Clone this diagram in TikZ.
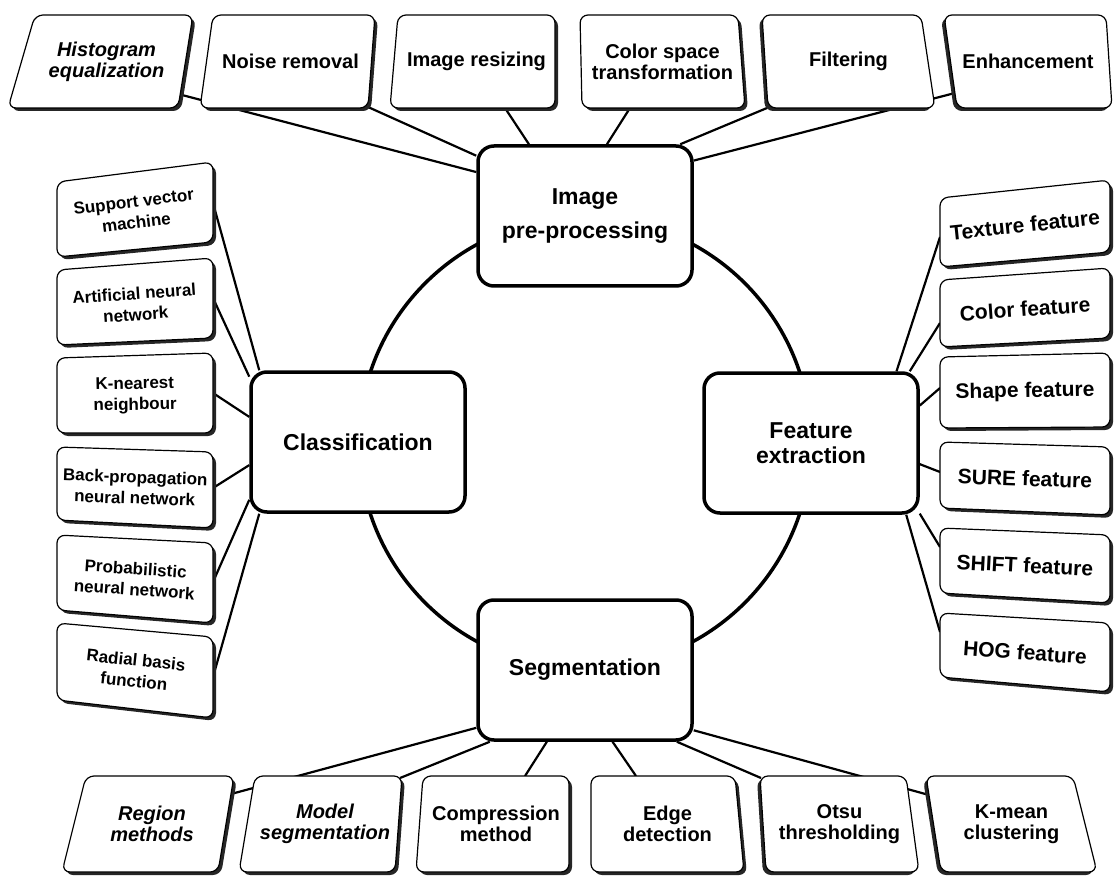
\documentclass[tikz,border=0pt]{standalone}
\usepackage{fontspec}
\setmainfont{Liberation Sans}
\usetikzlibrary{calc}
\newcommand{\boxfont}{\fontsize{20}{21}\selectfont\bfseries}
% tilted box: node options, four corners (TL, TR, BR, BL), shadow shift, text
\newcommand{\tiltbox}[7]{%
    \fill[shift={#6}, rounded corners=8pt, black!85] #2 -- #3 -- #4 -- #5 -- cycle;
    \draw[tiltedge] #2 -- #3 -- #4 -- #5 -- cycle;
    \node[#1] at ($#2!0.5!#4$) {#7};
}

\begin{document}
\begin{tikzpicture}[
        x=1pt, y=-1pt,
        hubbox/.style={draw, line width=3.5pt, fill=white, rounded corners=16pt, minimum width=214pt, minimum height=140pt, align=center, font=\fontsize{23}{25}\selectfont\bfseries},
        boxtext/.style={align=center, font=\boxfont},
        lefttext/.style={align=center, font=\fontsize{17}{21}\selectfont\bfseries},
        righttext/.style={align=center, font=\fontsize{21}{22}\selectfont\bfseries},
        tiltedge/.style={draw, fill=white, line width=1.2pt, rounded corners=8pt},
        link/.style={line width=2.2pt},
        ring/.style={line width=3.5pt}
    ]
        \useasboundingbox (0,0) rectangle (1116,877);

        % Ring
        \coordinate (hub) at (585,443);
        \draw[ring] (hub) circle[radius=226pt];

        % Main stages
        \node[hubbox, font=\fontsize{23}{34}\selectfont\bfseries] (pre) at (585,216) {Image\\pre-processing};
        \node[hubbox] (cls) at (358,442) {Classification};
        \node[hubbox] (feat) at (811,443) {Feature\\extraction};
        \node[hubbox] (seg) at (585,670) {Segmentation};

        % Attach points on the outer boxes
        \coordinate (hist-c) at (182,95);
        \coordinate (noise-c) at (368,107);
        \coordinate (resize-c) at (505,108);
        \coordinate (cspace-c) at (630,108);
        \coordinate (filter-c) at (767,108);
        \coordinate (enhance-c) at (955,93);
        \coordinate (svm-c) at (213,203);
        \coordinate (ann-c) at (213,298);
        \coordinate (knn-c) at (213,393);
        \coordinate (bpnn-c) at (213,488);
        \coordinate (pnn-c) at (213,582);
        \coordinate (rbf-c) at (213,677);
        \coordinate (texture-c) at (940,237);
        \coordinate (color-c) at (940,323);
        \coordinate (shape-c) at (940,388);
        \coordinate (sure-c) at (940,472);
        \coordinate (shift-c) at (940,547);
        \coordinate (hog-c) at (940,632);
        \coordinate (region-c) at (231,794);
        \coordinate (model-c) at (400,778);
        \coordinate (comp-c) at (525,776);
        \coordinate (edge-c) at (636,776);
        \coordinate (otsu-c) at (761,778);
        \coordinate (kmean-c) at (929,795);

        % Connectors
        \draw[link] (hist-c) -- (pre.158);
        \draw[link] (noise-c) -- (pre.151);
        \draw[link] (resize-c) -- (pre.128);
        \draw[link] (cspace-c) -- (pre.73);
        \draw[link] (filter-c) -- (pre.37);
        \draw[link] (enhance-c) -- (pre.27);
        \draw[link] (svm-c) -- (cls.144);
        \draw[link] (ann-c) -- (cls.149);
        \draw[link] (knn-c) -- (cls.167);
        \draw[link] (bpnn-c) -- (cls.192);
        \draw[link] (pnn-c) -- (cls.208);
        \draw[link] (rbf-c) -- (cls.216);
        \draw[link] (texture-c) -- (feat.40);
        \draw[link] (color-c) -- (feat.36);
        \draw[link] (shape-c) -- (feat.19);
        \draw[link] (sure-c) -- (feat.349);
        \draw[link] (shift-c) -- (feat.327);
        \draw[link] (hog-c) -- (feat.323);
        \draw[link] (region-c) -- (seg.208);
        \draw[link] (model-c) -- (seg.217);
        \draw[link] (comp-c) -- (seg.242);
        \draw[link] (edge-c) -- (seg.291);
        \draw[link] (otsu-c) -- (seg.322);
        \draw[link] (kmean-c) -- (seg.331);

        % Pre-processing steps
        \tiltbox{name=hist, boxtext, font=\boxfont\itshape}{(35,15)}{(193,15)}{(178,108)}{(8,108)}{(3,3)}{Histogram\\equalization}
        \tiltbox{name=noise, boxtext}{(213,15)}{(375,15)}{(368,108)}{(200,108)}{(3,3)}{Noise removal}
        \tiltbox{name=resize, boxtext}{(398,15)}{(555,15)}{(555,108)}{(390,108)}{(3,3)}{Image resizing}
        \tiltbox{name=cspace, boxtext}{(580,15)}{(738,15)}{(745,108)}{(582,108)}{(3,3)}{Color space\\transformation}
        \tiltbox{name=filter, boxtext}{(762,15)}{(921,15)}{(935,108)}{(768,108)}{(-3,3)}{Filtering}
        \tiltbox{name=enhance, boxtext}{(944,15)}{(1106,15)}{(1112,108)}{(957,108)}{(-3,3)}{Enhancement}

        % Classifiers
        \tiltbox{name=svm, lefttext, rotate=7}{(57,182)}{(213,162)}{(213,242)}{(57,257)}{(3,3)}{Support vector\\machine}
        \tiltbox{name=ann, lefttext, rotate=4}{(57,270)}{(213,258)}{(213,338)}{(57,345)}{(3,3)}{Artificial neural\\network}
        \tiltbox{name=knn, lefttext, rotate=1}{(57,358)}{(213,353)}{(213,433)}{(57,433)}{(3,3)}{K-nearest\\neighbour}
        \tiltbox{name=bpnn, lefttext, rotate=-2}{(57,447)}{(213,452)}{(213,528)}{(57,520)}{(3,3)}{Back-propagation\\neural network}
        \tiltbox{name=pnn, lefttext, rotate=-4}{(57,535)}{(213,543)}{(213,623)}{(57,610)}{(3,3)}{Probabilistic\\neural network}
        \tiltbox{name=rbf, lefttext, rotate=-6}{(57,623)}{(213,637)}{(213,718)}{(57,700)}{(3,3)}{Radial basis\\function}

        % Features
        \tiltbox{name=texture, righttext, rotate=6}{(940,198)}{(1110,180)}{(1110,252)}{(940,267)}{(3,3)}{Texture feature}
        \tiltbox{name=color, righttext, rotate=4}{(940,280)}{(1110,268)}{(1110,338)}{(940,347)}{(3,3)}{Color feature}
        \tiltbox{name=shape, righttext, rotate=1}{(940,357)}{(1110,353)}{(1110,427)}{(940,428)}{(3,3)}{Shape feature}
        \tiltbox{name=sure, righttext, rotate=-2}{(940,442)}{(1110,447)}{(1110,515)}{(940,508)}{(3,3)}{SURE feature}
        \tiltbox{name=shift, righttext, rotate=-3}{(940,528)}{(1110,535)}{(1110,603)}{(940,593)}{(3,3)}{SHIFT feature}
        \tiltbox{name=hog, righttext, rotate=-4}{(940,613)}{(1110,623)}{(1110,692)}{(940,677)}{(3,3)}{HOG feature}

        % Segmentation methods
        \tiltbox{name=region, boxtext, font=\boxfont\itshape}{(86,776)}{(234,776)}{(218,872)}{(62,872)}{(3,3)}{Region\\methods}
        \tiltbox{name=model, boxtext, font=\boxfont\itshape}{(255,776)}{(402,776)}{(395,872)}{(239,872)}{(3,3)}{Model\\segmentation}
        \tiltbox{name=comp, boxtext}{(423,776)}{(569,776)}{(569,872)}{(416,872)}{(3,3)}{Compression\\method}
        \tiltbox{name=edge, boxtext}{(591,776)}{(735,776)}{(744,872)}{(591,872)}{(3,3)}{Edge\\detection}
        \tiltbox{name=otsu, boxtext}{(760,776)}{(906,776)}{(919,872)}{(766,872)}{(-3,3)}{Otsu\\thresholding}
        \tiltbox{name=kmean, boxtext}{(926,776)}{(1073,776)}{(1097,872)}{(941,872)}{(-3,3)}{K-mean\\clustering}
    \end{tikzpicture}
\end{document}
